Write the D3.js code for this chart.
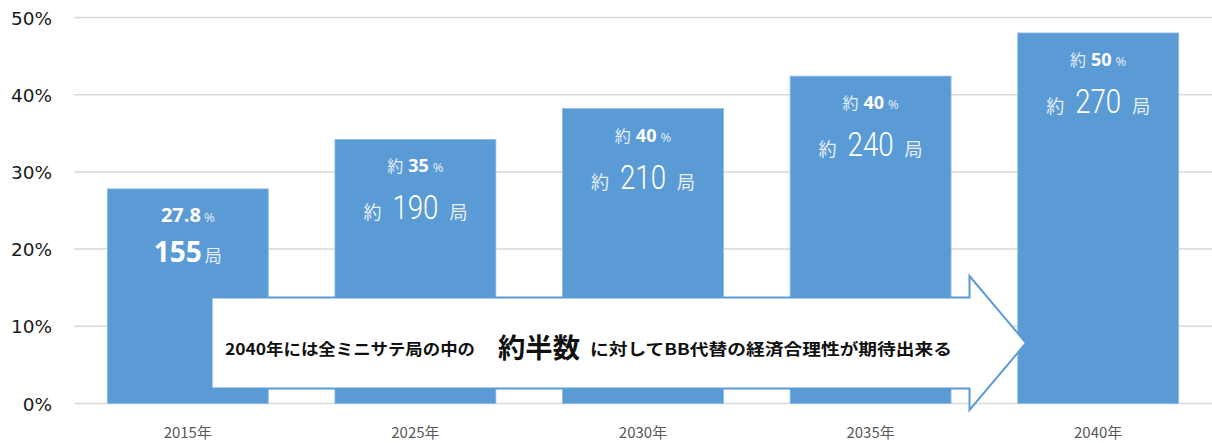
<!DOCTYPE html>
<html>
<head>
<meta charset="utf-8">
<script src="https://cdn.jsdelivr.net/npm/d3@7"></script>
<style>
  html, body { margin: 0; padding: 0; background: #fff; }
  svg { display: block; }
</style>
</head>
<body>
<svg id="chart" width="1212" height="443"></svg>
<script>
// ---- data ----
const categories = ["2015年", "2025年", "2030年", "2035年", "2040年"];
const shareValues = [27.8, 34.2, 38.2, 42.4, 48.0];
const shareLabels = ["27.8", "35", "40", "40", "50"];
const stationLabels = ["155", "190", "210", "240", "270"];
const approxFlags = [false, true, true, true, true];
const yTicks = [0, 10, 20, 30, 40, 50];
const arrowMessage = ["2040年には全ミニサテ局の中の", "約半数", "に対してBB代替の経済合理性が期待出来る"];

// ---- layout ----
const W = 1212, H = 443;
const plot = { left: 74, right: 1212, top: 17.5, bottom: 403.5 };
const barColor = "#5b9bd5";

const svg = d3.select("#chart");

const x = d3.scaleBand()
  .domain(categories)
  .range([plot.left, plot.right])
  .paddingInner(0.293)
  .paddingOuter(0.1465);

const y = d3.scaleLinear()
  .domain([0, 50])
  .range([plot.bottom, plot.top]);

// gridlines
svg.append("g")
  .selectAll("line")
  .data(yTicks)
  .join("line")
  .attr("x1", plot.left)
  .attr("x2", plot.right)
  .attr("y1", d => y(d))
  .attr("y2", d => y(d))
  .attr("stroke", "#d9d9d9")
  .attr("stroke-width", 1.5);

// y axis labels
const yAxis = d3.axisLeft(y).tickValues(yTicks).tickFormat(d => d + "%").tickSize(0).tickPadding(0);
const yg = svg.append("g").attr("transform", `translate(52,0)`).call(yAxis);
yg.select(".domain").remove();
yg.selectAll("text")
  .attr("font-family", "DejaVu Sans, sans-serif")
  .attr("font-size", 18.5)
  .attr("fill", "#1a1a1a")
  .attr("dy", "0.36em");

// bars
const data = categories.map((c, i) => ({
  cat: c, v: shareValues[i], pct: shareLabels[i], st: stationLabels[i], approx: approxFlags[i]
}));

svg.append("g")
  .selectAll("rect")
  .data(data)
  .join("rect")
  .attr("x", d => x(d.cat))
  .attr("y", d => y(d.v))
  .attr("width", x.bandwidth())
  .attr("height", d => y(0) - y(d.v))
  .attr("fill", barColor)
  .attr("stroke", "#8cb8e3")
  .attr("stroke-width", 0.8);

// x axis labels
const xAxis = d3.axisBottom(x).tickSize(0).tickPadding(0);
const xg = svg.append("g").attr("transform", `translate(0,${plot.bottom})`).call(xAxis);
xg.select(".domain").remove();
xg.selectAll("text")
  .attr("font-family", "'Noto Sans CJK JP', 'Open Sans', sans-serif")
  .attr("font-size", 15)
  .attr("fill", "#595959")
  .attr("dy", 0)
  .attr("y", 34);

// bar labels
const labelFont = "'Noto Sans CJK JP', 'Open Sans', sans-serif";
const lab = svg.append("g").selectAll("g").data(data).join("g")
  .attr("transform", d => `translate(${x(d.cat) + x.bandwidth() / 2},${y(d.v)})`);

lab.each(function(d) {
  const g = d3.select(this);
  if (!d.approx) {
    const t1 = g.append("text").attr("text-anchor", "middle").attr("y", 33)
      .attr("fill", "#fff").attr("font-family", "'Open Sans', sans-serif");
    t1.append("tspan").attr("font-size", 20).attr("font-weight", 700).text(d.pct);
    t1.append("tspan").attr("font-size", 13).attr("dx", 3).attr("fill", "#e6eef8").text("%");
    const t2 = g.append("text").attr("text-anchor", "middle").attr("y", 73)
      .attr("fill", "#fff").attr("font-family", "'Open Sans', sans-serif");
    t2.append("tspan").attr("font-size", 28).attr("font-weight", 700).text(d.st);
    t2.append("tspan").attr("font-size", 17).attr("dx", 3).attr("fill", "#e6eef8")
      .attr("font-family", labelFont).text("局");
  } else {
    const t1 = g.append("text").attr("text-anchor", "middle").attr("y", 33)
      .attr("fill", "#fff").attr("font-family", "'Open Sans', sans-serif");
    t1.append("tspan").attr("font-size", 16).attr("fill", "#e6eef8").attr("font-family", labelFont).text("約");
    t1.append("tspan").attr("font-size", 18).attr("font-weight", 700).attr("dx", 5).text(d.pct);
    t1.append("tspan").attr("font-size", 13).attr("dx", 4).attr("fill", "#e6eef8").text("%");
    const t2 = g.append("text").attr("text-anchor", "middle").attr("y", 80)
      .attr("fill", "#fff").attr("font-family", "Roboto, sans-serif");
    t2.append("tspan").attr("font-size", 18).attr("fill", "#e6eef8").attr("font-family", labelFont).text("約");
    t2.append("tspan").attr("font-size", 33).attr("font-weight", 300).attr("dx", 11)
      .attr("textLength", 46).attr("lengthAdjust", "spacingAndGlyphs").text(d.st);
    t2.append("tspan").attr("font-size", 18).attr("dx", 11).attr("fill", "#e6eef8")
      .attr("font-family", labelFont).text("局");
  }
});

// arrow
const ax0 = 211.5, ax1 = 969.5, ay0 = 297.5, ay1 = 388.5, headTop = 276, headBot = 410, tipX = 1026, tipY = (ay0 + ay1) / 2;
const arrowPts = [[ax0, ay0], [ax1, ay0], [ax1, headTop], [tipX, tipY], [ax1, headBot], [ax1, ay1], [ax0, ay1]];
svg.append("path")
  .attr("d", d3.line()(arrowPts) + "Z")
  .attr("fill", "#fff")
  .attr("stroke", barColor)
  .attr("stroke-width", 2);

// arrow message
const msgSpecs = [
  { x: 225, w: 250, size: 16 },
  { x: 498, w: 82, size: 27 },
  { x: 590, w: 362, size: 16 }
];
const msg = svg.append("g").attr("font-family", labelFont).attr("font-weight", 700).attr("fill", "#111");
arrowMessage.forEach((s, i) => {
  const sp = msgSpecs[i];
  msg.append("text")
    .attr("x", sp.x)
    .attr("y", i === 1 ? 358 : 355)
    .attr("font-size", sp.size)
    .attr("textLength", sp.w)
    .attr("lengthAdjust", "spacingAndGlyphs")
    .text(s);
});
</script>
</body>
</html>
